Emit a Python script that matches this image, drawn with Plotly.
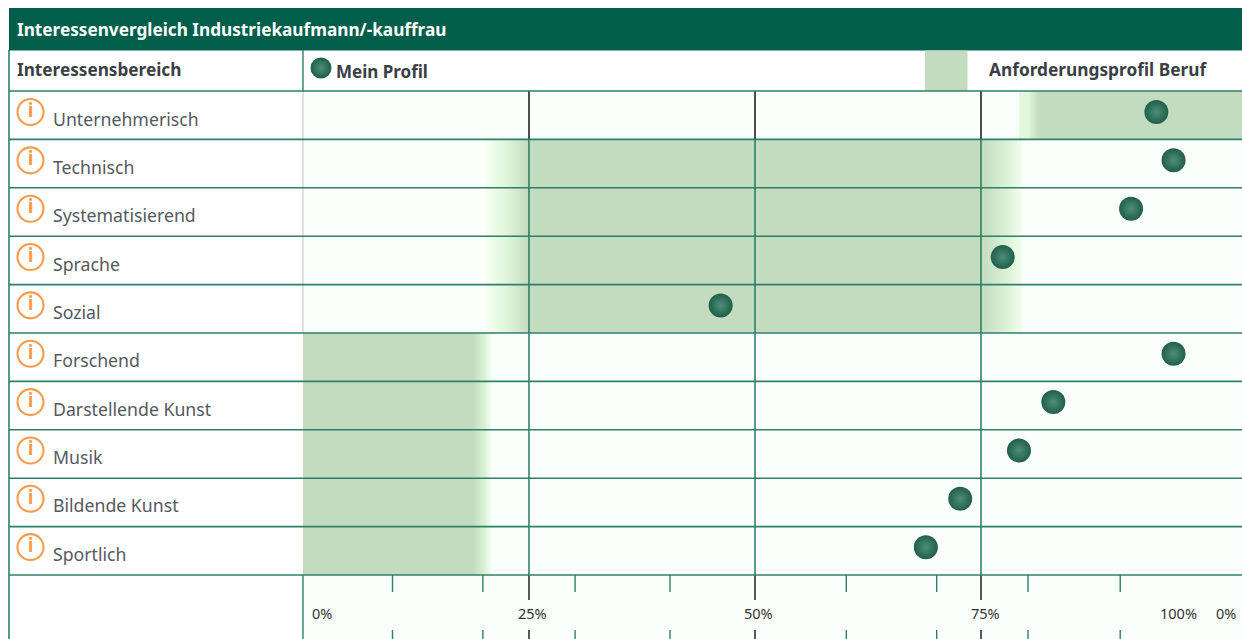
import plotly.graph_objects as go

# ---- data ----
title = "Interessenvergleich Industriekaufmann/-kauffrau"
header_left = "Interessensbereich"
legend_profile = "Mein Profil"
legend_required = "Anforderungsprofil Beruf"
categories = ["Unternehmerisch", "Technisch", "Systematisierend", "Sprache", "Sozial",
              "Forschend", "Darstellende Kunst", "Musik", "Bildende Kunst", "Sportlich"]
profile_values = [94.4, 96.3, 91.6, 77.4, 46.2, 96.3, 83.0, 79.2, 72.7, 68.9]
band_low = [79.2, 20.2, 20.2, 20.2, 20.2, 0, 0, 0, 0, 0]
band_high = [104, 79.5, 79.5, 79.5, 79.5, 20.8, 20.8, 20.8, 20.8, 20.8]
major_ticks = [25, 50, 75]
minor_ticks = [9.9, 19.9, 30.1, 40.6, 60.1, 70.1, 80.2, 90.4]
tick_labels = ["0%", "25%", "50%", "75%", "100%", "0%"]
tick_label_pos = [2.1, 25.4, 50.4, 75.5, 96.9, 102.1]

# ---- style / layout constants ----
W, H = 1242, 639
PX0, PPP = 303.0, 9.04          # pixel of 0 %, pixels per percent
RY0, RH = 112.0, 48.35          # pixel of first row centre, row pitch
TOP = 91.0
BOTTOM = 575.0
GREEN = "#c3dbbe"
PALE = "#fbfffb"
LINE = "#2f7f69"
DARK = "#005e4a"
ORANGE = "#f79b4f"
TXT = "#55595e"
HEAD = "#3a3f46"
FONT = "Noto Sans, sans-serif"


def xp(px):
    return (px - PX0) / PPP


def yp(py):
    return (py - RY0) / RH


top_y = yp(TOP)
bot_y = yp(BOTTOM)
n = len(categories)
edges = [top_y + i * (bot_y - top_y) / n for i in range(n + 1)]

fig = go.Figure()

# requirement bands with soft edges
for i, (lo, hi) in enumerate(zip(band_low, band_high)):
    span = hi - lo
    stops = []
    if lo > 0:
        fade = 4.8 if lo < 50 else 2.2
        stops += [[0, "#e6f9e2" if lo > 50 else "#f6fff4"],
                  [0.5 * fade / span, "#dff5da"], [fade / span, GREEN]]
    else:
        stops += [[0, GREEN]]
    if hi < 100:
        fade = 4.5 if lo > 0 else 2.0
        stops += [[1 - fade / span, GREEN], [1 - 0.35 * fade / span, "#dcf2d6"], [1, "#f0ffee"]]
    else:
        stops += [[1, GREEN]]
    fig.add_trace(go.Scatter(
        x=[lo, hi, hi, lo, lo], y=[edges[i], edges[i], edges[i + 1], edges[i + 1], edges[i]],
        mode="lines", line=dict(width=0), fill="toself", hoverinfo="skip", showlegend=False,
        fillgradient=dict(type="horizontal", colorscale=stops)))


def segs(xs, y0, y1, color, width):
    X, Y = [], []
    for x in xs:
        X += [x, x, None]
        Y += [y0, y1, None]
    fig.add_trace(go.Scatter(x=X, y=Y, mode="lines", hoverinfo="skip", showlegend=False,
                             line=dict(color=color, width=width)))


# vertical grid lines
segs(major_ticks, edges[1], edges[-1], "#17705a", 1.4)
segs(major_ticks, edges[0], edges[1], "#111111", 1.5)
# axis ticks above and below the labels
segs(minor_ticks, bot_y, yp(592), LINE, 1.4)
segs(minor_ticks, yp(630), yp(639), LINE, 1.4)
segs(major_ticks, bot_y, yp(600), "#111111", 1.4)
segs(major_ticks, yp(630), yp(639), "#111111", 1.4)
# grey left edge of the chart rows
segs([0], edges[0], edges[5], "#d6d6d6", 1.5)
# horizontal rows
X, Y = [], []
for e in edges:
    X += [xp(9), xp(W), None]
    Y += [e, e, None]
fig.add_trace(go.Scatter(x=X, y=Y, mode="lines", hoverinfo="skip", showlegend=False,
                         line=dict(color=LINE, width=1.6)))

# info icons
fig.add_trace(go.Scatter(
    x=[xp(30.5)] * n, y=list(range(n)), mode="markers+text", hoverinfo="skip", showlegend=False,
    marker=dict(symbol="circle-open", size=26, color=ORANGE, line=dict(width=2.1, color=ORANGE)),
    text=["<b>i</b>"] * n, textposition="middle center",
    textfont=dict(family="Noto Sans", size=19, color=ORANGE)))

# profile dots
fig.add_trace(go.Scatter(
    x=profile_values, y=list(range(n)), mode="markers", showlegend=False,
    marker=dict(size=24, color="#1f5f4b", gradient=dict(type="radial", color="#4f8f78"),
                line=dict(width=0)),
    hovertemplate="%{x}%<extra></extra>"))
# legend dot
fig.add_trace(go.Scatter(
    x=[xp(321)], y=[yp(68)], mode="markers", showlegend=False, hoverinfo="skip",
    marker=dict(size=21, color="#1f5f4b", gradient=dict(type="radial", color="#4f8f78"),
                line=dict(width=0))))


def ann(text, px, py, size, color, bold=False, anchor="left"):
    fig.add_annotation(x=xp(px), y=yp(py), xref="x", yref="y", text=f"<b>{text}</b>" if bold else text,
                       showarrow=False, xanchor=anchor, yanchor="middle", align="left",
                       font=dict(family=FONT, size=size, color=color))


ann(title, 15, 29, 17.2, "#ffffff", True)
ann(header_left, 15, 69.5, 17.2, HEAD, True)
ann(legend_profile, 334, 71, 17, HEAD, True)
ann(legend_required, 987, 69.5, 17.3, HEAD, True)
label_dy = 6.5
for i, c in enumerate(categories):
    ann(c, 51.2, RY0 + i * RH + label_dy, 17.7, TXT)
for lab, x in zip(tick_labels, tick_label_pos):
    fig.add_annotation(x=x, y=yp(613), xref="x", yref="y", text=lab, showarrow=False,
                       xanchor="center", yanchor="middle",
                       font=dict(family=FONT, size=14.5, color="#333333"))

shapes = [
    # pale chart area
    dict(type="rect", xref="x", yref="y", x0=0, x1=xp(W), y0=top_y, y1=yp(H), fillcolor=PALE,
         line_width=0, layer="below"),
    # title bar
    dict(type="rect", xref="x", yref="y", x0=xp(9), x1=xp(W), y0=yp(8), y1=yp(50.5), fillcolor=DARK,
         line_width=0, layer="below"),
    # legend swatch
    dict(type="rect", xref="x", yref="y", x0=xp(925), x1=xp(967.5), y0=yp(50.5), y1=top_y,
         fillcolor=GREEN, line_width=0, layer="below"),
    # frame left
    dict(type="line", xref="x", yref="y", x0=xp(9), x1=xp(9), y0=yp(50), y1=yp(H),
         line=dict(color=LINE, width=1.6), layer="below"),
    # divider in header and in axis row
    dict(type="line", xref="x", yref="y", x0=0, x1=0, y0=yp(50), y1=top_y,
         line=dict(color=LINE, width=1.4), layer="below"),
    dict(type="line", xref="x", yref="y", x0=0, x1=0, y0=bot_y, y1=yp(H),
         line=dict(color=LINE, width=1.4), layer="below"),
]

fig.update_layout(
    width=W, height=H, margin=dict(l=0, r=0, t=0, b=0), autosize=False,
    paper_bgcolor="white", plot_bgcolor="white", showlegend=False, shapes=shapes,
    xaxis=dict(range=[xp(0), xp(W)], visible=False, fixedrange=True),
    yaxis=dict(range=[yp(H), yp(0)], visible=False, fixedrange=True),
)
fig.write_html("out.html", config=dict(displayModeBar=False),
               default_width=f"{W}px", default_height=f"{H}px",
               post_script="document.body.style.margin='0';document.documentElement.style.overflow='hidden';")
